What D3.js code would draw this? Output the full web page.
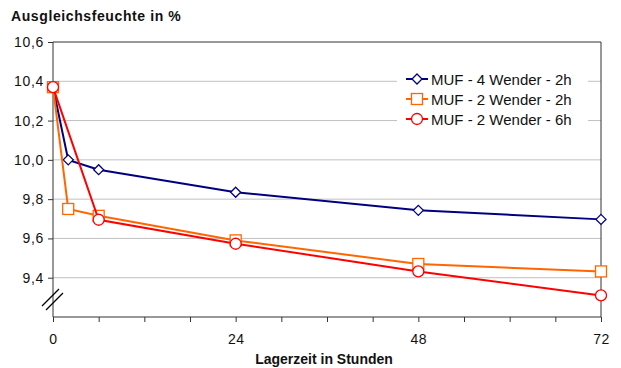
<!DOCTYPE html>
<html><head><meta charset="utf-8">
<script src="https://cdn.jsdelivr.net/npm/d3@7"></script>
<style>body{margin:0;background:#fff}svg{display:block}text{font-family:Arial,"Liberation Sans",sans-serif}</style>
</head><body>
<script>
const seriesNames = ["MUF - 4 Wender - 2h", "MUF - 2 Wender - 2h", "MUF - 2 Wender - 6h"];
const seriesColors = ["#000080", "#FF6600", "#FF0000"];
const seriesMarkers = ["diamond", "square", "circle"];
const hours4w2h = [0, 2, 6, 24, 48, 72];
const values4w2h = [10.37, 10.00, 9.95, 9.835, 9.743, 9.697];
const hours2w2h = [0, 2, 6, 24, 48, 72];
const values2w2h = [10.37, 9.75, 9.715, 9.59, 9.47, 9.432];
const hours2w6h = [0, 6, 24, 48, 72];
const values2w6h = [10.37, 9.695, 9.573, 9.432, 9.31];
const xTickLabels = [0, 24, 48, 72];
const xMinorTicks = [0, 6, 12, 18, 24, 30, 36, 42, 48, 54, 60, 66, 72];
const yTickValues = [9.4, 9.6, 9.8, 10.0, 10.2, 10.4, 10.6];
const titleY = "Ausgleichsfeuchte in %";
const titleX = "Lagerzeit in Stunden";

const series = [
  {name: seriesNames[0], hours: hours4w2h, values: values4w2h},
  {name: seriesNames[1], hours: hours2w2h, values: values2w2h},
  {name: seriesNames[2], hours: hours2w6h, values: values2w6h}
];

const W = 621, H = 368;
const L = 53, R = 601, T = 42, B = 317;
const svg = d3.select("body").append("svg").attr("width", W).attr("height", H);
const x = d3.scaleLinear().domain([0, 72]).range([L, R]);
const y = d3.scaleLinear().domain([9.2, 10.6]).range([B, T]);
const fmt = d => d3.format(".1f")(d).replace(".", ",");

// gridlines
svg.append("g").selectAll("line").data(yTickValues.filter(v => v < 10.6)).join("line")
  .attr("x1", L).attr("x2", R).attr("y1", d => y(d)).attr("y2", d => y(d))
  .attr("stroke", "#c0c0c0").attr("stroke-width", 1);

// plot border top & right
svg.append("path").attr("d", `M${L},${y(10.6)}H${R}V${B}`).attr("fill", "none")
  .attr("stroke", "#333").attr("stroke-width", 1);

// y axis
const yAxis = svg.append("g").attr("transform", `translate(${L},0)`)
  .call(d3.axisLeft(y).tickValues(yTickValues).tickFormat(fmt).tickSize(5).tickPadding(4));
yAxis.select(".domain").attr("d", `M0,${T}V${B}`).attr("stroke", "#333");
yAxis.selectAll(".tick line").attr("stroke", "#333");
yAxis.selectAll("text").attr("font-size", 14).attr("letter-spacing", 0.7).attr("fill", "#111");

// x axis
const xAxis = svg.append("g").attr("transform", `translate(0,${B})`)
  .call(d3.axisBottom(x).tickValues(xMinorTicks).tickSize(5).tickPadding(12)
    .tickFormat(d => xTickLabels.includes(d) ? d : ""));
xAxis.select(".domain").attr("d", `M${L},0H${R}`).attr("stroke", "#333");
xAxis.selectAll(".tick line").attr("stroke", "#333");
xAxis.selectAll("text").attr("font-size", 14).attr("letter-spacing", 0.5).attr("fill", "#111");

// axis break
const brk = svg.append("g");
[[0, 0], [4, 4]].forEach(([dx, dy]) => {
  brk.append("line").attr("x1", 42 + dx).attr("y1", 306 + dy).attr("x2", 59 + dx).attr("y2", 289 + dy)
    .attr("stroke", "#000").attr("stroke-width", 1.3);
});

// legend background
svg.append("rect").attr("x", 397).attr("y", 66).attr("width", 191).attr("height", 64).attr("fill", "#fff");

function marker(g, type, color, cx, cy) {
  if (type === "diamond") {
    g.append("path").attr("d", `M${cx},${cy-5}L${cx+5},${cy}L${cx},${cy+5}L${cx-5},${cy}Z`)
      .attr("fill", "#fff").attr("stroke", color).attr("stroke-width", 1.3);
  } else if (type === "square") {
    g.append("rect").attr("x", cx - 5.5).attr("y", cy - 5.5).attr("width", 11).attr("height", 11)
      .attr("fill", "#fff").attr("stroke", color).attr("stroke-width", 1.3);
  } else {
    g.append("circle").attr("cx", cx).attr("cy", cy).attr("r", 5.5)
      .attr("fill", "#fff").attr("stroke", color).attr("stroke-width", 1.3);
  }
}

const line = d3.line().x(d => x(d[0])).y(d => y(d[1]));
series.forEach((s, i) => {
  const pts = s.hours.map((h, k) => [h, s.values[k]]);
  const g = svg.append("g");
  g.append("path").attr("d", line(pts)).attr("fill", "none")
    .attr("stroke", seriesColors[i]).attr("stroke-width", 2);
  pts.forEach(p => marker(g, seriesMarkers[i], seriesColors[i], x(p[0]), y(p[1])));
});

// legend
series.forEach((s, i) => {
  const ly = 79 + i * 20;
  const g = svg.append("g");
  g.append("line").attr("x1", 406).attr("x2", 428).attr("y1", ly).attr("y2", ly)
    .attr("stroke", seriesColors[i]).attr("stroke-width", 2);
  marker(g, seriesMarkers[i], seriesColors[i], 417, ly);
  g.append("text").attr("x", 431).attr("y", ly + 5.5).attr("font-size", 15).attr("fill", "#111").text(s.name);
});

// titles
svg.append("text").attr("x", 11).attr("y", 21).attr("font-size", 14).attr("letter-spacing", 0.6)
  .attr("font-weight", "bold").attr("fill", "#111").text(titleY);
svg.append("text").attr("x", 324).attr("y", 364).attr("text-anchor", "middle").attr("font-size", 14)
  .attr("font-weight", "bold").attr("fill", "#111").text(titleX);
</script>
</body></html>
